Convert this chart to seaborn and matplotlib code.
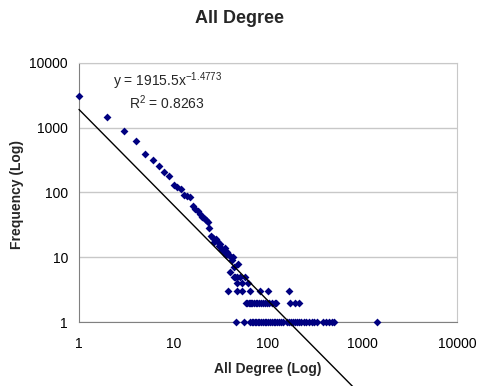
import numpy as np
import pandas as pd
import matplotlib
matplotlib.use('Agg')
import seaborn as sns
import matplotlib.pyplot as plt

# degree -> number of nodes
degree = [1, 2, 3, 4, 5, 6, 7, 8, 9, 10, 11, 12, 13, 14, 15,
          16, 17, 18, 19, 20, 21, 22, 23, 24, 25, 26, 27, 28, 29, 30,
          31, 32, 33, 34, 35, 36, 37, 39, 41, 42, 43, 44, 48.5,
          40, 43.5, 45, 47, 50, 57, 47.5, 53, 62,
          38, 46.5, 52.5, 65, 82, 100, 168,
          58, 60, 62.5, 64, 66, 68, 71, 74, 77, 80, 84, 88, 92, 97, 103,
          110, 118, 123, 170, 192, 213,
          46, 56, 64.5, 67, 69, 72, 75, 78, 81, 85, 89, 93, 96, 100.5, 105,
          110.5, 115, 120, 126, 131, 138, 145, 158, 166, 175, 186, 194, 205,
          215, 225, 240, 255, 270, 290, 310, 327, 380, 410, 440, 470, 500, 1410]
frequency = [3100, 1440, 880, 615, 400, 313, 260, 205, 178, 131, 120, 115, 92, 87, 85,
             62, 56, 51, 47, 42, 40, 38, 35, 28, 21, 20, 17, 19, 18, 15,
             16, 14, 13, 12, 14, 11, 12, 11, 10, 9, 10, 7, 8,
             6, 5, 5, 5, 5, 5, 4, 4, 4,
             3, 3, 3, 3, 3, 3, 3,
             2, 2, 2, 2, 2, 2, 2, 2, 2, 2, 2, 2, 2, 2, 2,
             2, 2, 2, 2, 2, 2,
             1, 1, 1, 1, 1, 1, 1, 1, 1, 1, 1, 1, 1, 1, 1,
             1, 1, 1, 1, 1, 1, 1, 1, 1, 1, 1, 1, 1,
             1, 1, 1, 1, 1, 1, 1, 1, 1, 1, 1, 1, 1, 1]

# power trendline shown on the chart
coef = 1915.5
expo = -1.4773
r2 = 0.8263

ticks = [1, 10, 100, 1000, 10000]
tick_labels = ['1', '10', '100', '1000', '10000']

df = pd.DataFrame({'degree': degree, 'frequency': frequency})

sns.set_style('white')
plt.rcParams['font.family'] = ['Liberation Sans', 'DejaVu Sans']
plt.rcParams['mathtext.fontset'] = 'custom'
plt.rcParams['mathtext.rm'] = 'Liberation Sans'
plt.rcParams['mathtext.it'] = 'Liberation Sans'

fig = plt.figure(figsize=(4.86, 3.86), dpi=100)
ax = fig.add_axes([79/486, 1-322/386, 378/486, 259/386])

sns.scatterplot(data=df, x='degree', y='frequency', marker='D', s=16,
                color='#000080', edgecolor='#000080', linewidth=0, ax=ax,
                zorder=3, clip_on=False)

# trendline over the data range, runs past the bottom of the plot
xs = np.array([min(degree), max(degree)])
ax.plot(xs, coef * xs ** expo, color='black', lw=1, clip_on=False, zorder=4)

ax.set_xscale('log')
ax.set_yscale('log')
ax.set_xlim(1, 10000)
ax.set_ylim(1, 10000)
ax.set_xticks(ticks)
ax.set_xticklabels(tick_labels)
ax.set_yticks(ticks)
ax.set_yticklabels(tick_labels)
ax.minorticks_off()
ax.tick_params(axis='both', direction='out', length=3, width=0.8,
               color='#808080', labelsize=10, labelcolor='black')
ax.tick_params(axis='x', pad=8)
ax.tick_params(axis='y', pad=5)
ax.yaxis.grid(True, color='#c8c8c8', lw=1)
ax.set_axisbelow(True)
for s in ['left', 'bottom']:
    ax.spines[s].set_color('#808080')
for s in ['top', 'right']:
    ax.spines[s].set_color('#c8c8c8')
ax.set_xlabel('')
ax.set_ylabel('')

ax.text(0.09, 0.910, 'y = 1915.5x$^{-1.4773}$', transform=ax.transAxes,
        fontsize=10, va='baseline')
ax.text(0.132, 0.822, 'R$^{2}$ = %.4f' % r2, transform=ax.transAxes,
        fontsize=10, va='baseline')

fig.text(0.492, 1-23/386, 'All Degree', fontsize=13, fontweight='bold',
         ha='center', va='baseline')
fig.text(268/486, 1-362/386, 'All Degree (Log)', fontsize=10, fontweight='bold',
         ha='center', va='top')
fig.text(17/486, 0.495, 'Frequency (Log)', fontsize=10, fontweight='bold',
         ha='center', va='center', rotation=90)

fig.savefig('out.png', dpi=100)
